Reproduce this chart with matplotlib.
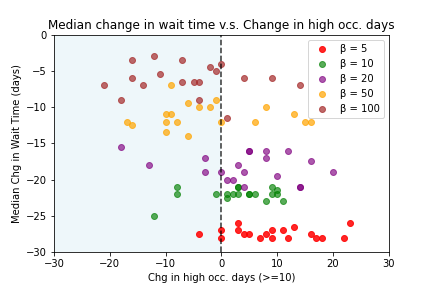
import numpy as np
import matplotlib
matplotlib.use('Agg')
import matplotlib.pyplot as plt

# beta = 5
x5 = [-4, 0, 0, 3, 3, 4, 5, 7, 8, 9, 9, 11, 12, 13, 16, 17, 18, 22, 23]
y5 = [-27.5, -27, -28, -26, -27, -27.5, -27.5, -28, -27.5, -27, -28, -27, -28, -26.5, -27.5, -28, -28, -28, -26]

# beta = 10
x10 = [-12, -8, -8, -1, 1, 1, 2, 3, 3, 3, 5, 5, 6, 8, 9, 9, 10, 10, 11]
y10 = [-25, -21, -22, -22, -22, -22.5, -22, -21, -21, -22, -22, -22, -22, -23, -21, -22, -21.5, -22, -23]

# beta = 20
x20 = [-18, -13, -3, -3, 0, 1, 2, 3, 4, 4, 5, 5, 8, 8, 10, 12, 14, 14, 16, 20]
y20 = [-15.5, -18, -17, -19, -19, -20, -20, -18, -19, -21, -16, -16, -16, -17, -19.5, -16, -21, -21, -17.5, -19]

# beta = 50
x50 = [-17, -16, -10, -10, -10, -9, -9, -8, -6, -6, -4, -2, -1, 0, 6, 8, 13, 15, 16]
y50 = [-12, -12.5, -11, -12, -13.5, -11, -7, -12, -9.5, -14, -10, -10, -9, -12, -12, -10, -11, -12, -12]

# beta = 100
x100 = [-21, -18, -16, -16, -14, -12, -11, -7, -7, -5, -4, -4, -2, -1, 0, 1, 4, 9, 14]
y100 = [-7, -9, -3.5, -6, -7, -3, -5.5, -3.5, -6.5, -6.5, -6.5, -9, -4.5, -5, -4, -11.5, -6, -6, -7]

series = [(x5, y5, 'red', 0.85, 'β = 5'),
          (x10, y10, 'green', 0.65, 'β = 10'),
          (x20, y20, 'purple', 0.65, 'β = 20'),
          (x50, y50, 'orange', 0.7, 'β = 50'),
          (x100, y100, 'brown', 0.7, 'β = 100')]

fig, ax = plt.subplots(figsize=(6, 4), dpi=72)
fig.subplots_adjust(left=0.125, right=0.9, top=0.88, bottom=0.125)

ax.axvspan(-30, 0, color='lightblue', alpha=0.2, lw=0)
for xs, ys, c, a, lab in series:
    ax.scatter(xs, ys, color=c, alpha=a, label=lab)
ax.axvline(0, color='k', linestyle='--', alpha=0.8)

ax.set_xlim(-30, 30)
ax.set_ylim(-30, 0)
ax.set_title('Median change in wait time v.s. Change in high occ. days')
ax.set_xlabel('Chg in high occ. days (>=10)')
ax.set_ylabel('Median Chg in Wait Time (days)')
ax.legend(loc='upper right')

fig.savefig('out.png', dpi=72)
